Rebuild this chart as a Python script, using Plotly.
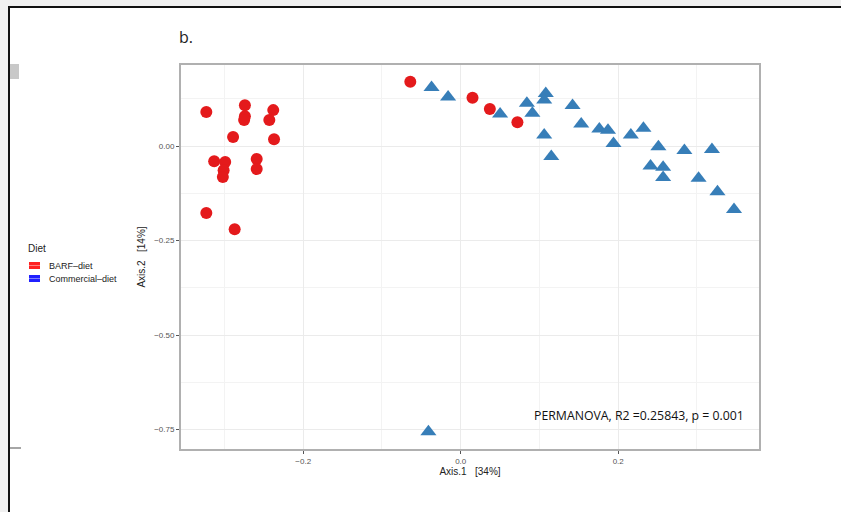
import plotly.graph_objects as go

# ---- data ----
barf_x = [-0.323, -0.274, -0.274, -0.275, -0.238, -0.243, -0.289, -0.237, -0.313, -0.299,
          -0.301, -0.302, -0.259, -0.259, -0.323, -0.287, -0.064, 0.015, 0.037, 0.072]
barf_y = [0.090, 0.108, 0.079, 0.069, 0.095, 0.069, 0.024, 0.018, -0.040, -0.042,
          -0.064, -0.082, -0.034, -0.061, -0.177, -0.220, 0.170, 0.128, 0.098, 0.063]

comm_x = [-0.037, -0.016, 0.050, 0.084, 0.091, 0.108, 0.106, 0.106, 0.115, 0.142,
          0.153, 0.176, 0.187, 0.194, 0.216, 0.232, 0.251, 0.241, 0.257, 0.257,
          0.284, 0.319, 0.302, 0.326, 0.347, -0.041]
comm_y = [0.155, 0.130, 0.085, 0.113, 0.087, 0.139, 0.122, 0.029, -0.028, 0.107,
          0.058, 0.045, 0.042, 0.007, 0.029, 0.047, -0.002, -0.053, -0.056, -0.083,
          -0.012, -0.009, -0.085, -0.121, -0.168, -0.756]

x_ticks = [-0.2, 0.0, 0.2]
y_ticks = [0.0, -0.25, -0.5, -0.75]
group_names = ["BARF\u2013diet", "Commercial\u2013diet"]
legend_title = "Diet"
x_title = "Axis.1   [34%]"
y_title = "Axis.2   [14%]"
panel_label = "b."
stat_text = "PERMANOVA, R2 =0.25843, p = 0.001"

RED = "#E41A1C"
BLUE = "#377EB8"

W, H = 841, 512
L, R, T, B = 180, 81, 64, 62
PW, PH = W - L - R, H - T - B


def px(x):
    return (x - L) / PW


def py(y):
    return (H - B - y) / PH


fig = go.Figure()
fig.add_trace(go.Scatter(x=barf_x, y=barf_y, mode="markers", name=group_names[0],
                         showlegend=False,
                         marker=dict(symbol="circle", size=12, color=RED, line=dict(width=0))))
fig.add_trace(go.Scatter(x=comm_x, y=comm_y, mode="markers", name=group_names[1],
                         showlegend=False,
                         marker=dict(symbol="triangle-up", size=14, color=BLUE, line=dict(width=0))))

axis_common = dict(showline=False, zeroline=False, ticks="outside", ticklen=3,
                   tickcolor="#555555", tickwidth=1,
                   tickfont=dict(family="Liberation Sans", size=8, color="#555555"),
                   gridcolor="#ebebeb", gridwidth=1)

fig.update_xaxes(range=[-0.3564, 0.380], tickvals=x_ticks, tickformat=".1f",
                 title=dict(text=x_title, font=dict(family="Liberation Sans", size=10, color="#222"),
                            standoff=2),
                 minor=dict(dtick=0.1, tick0=0, showgrid=True, gridcolor="#f3f3f3", ticks=""),
                 **axis_common)
fig.update_yaxes(range=[-0.804, 0.217], tickvals=y_ticks, tickformat=".2f",
                 title=dict(text=y_title, font=dict(family="Liberation Sans", size=10, color="#222"),
                            standoff=6),
                 minor=dict(dtick=0.125, tick0=0, showgrid=True, gridcolor="#f3f3f3", ticks=""),
                 **axis_common)

shapes = [
    # panel border
    dict(type="rect", xref="paper", yref="paper", x0=0, x1=1, y0=0, y1=1,
         line=dict(color="#b0b0b0", width=2), layer="above"),
    # page frame
    dict(type="rect", xref="paper", yref="paper", x0=px(0), x1=px(W), y0=py(7), y1=py(0),
         fillcolor="#f0f0f0", line=dict(width=0), layer="above"),
    dict(type="rect", xref="paper", yref="paper", x0=px(0), x1=px(8), y0=py(H), y1=py(0),
         fillcolor="#f0f0f0", line=dict(width=0), layer="above"),
    dict(type="line", xref="paper", yref="paper", x0=px(8), x1=px(W), y0=py(7), y1=py(7),
         line=dict(color="#111111", width=2)),
    dict(type="line", xref="paper", yref="paper", x0=px(9), x1=px(9), y0=py(7), y1=py(H),
         line=dict(color="#111111", width=2)),
    dict(type="rect", xref="paper", yref="paper", x0=px(10), x1=px(19), y0=py(79), y1=py(64),
         fillcolor="#c8c8c8", line=dict(width=0)),
    dict(type="line", xref="paper", yref="paper", x0=px(10), x1=px(21), y0=py(448), y1=py(448),
         line=dict(color="#888888", width=1.5)),
    # legend keys
    dict(type="rect", xref="paper", yref="paper", x0=px(29), x1=px(40), y0=py(269), y1=py(262),
         fillcolor="#ff2020", line=dict(width=0)),
    dict(type="line", xref="paper", yref="paper", x0=px(29), x1=px(40), y0=py(265.5), y1=py(265.5),
         line=dict(color="#ff8080", width=1)),
    dict(type="rect", xref="paper", yref="paper", x0=px(29), x1=px(40), y0=py(282), y1=py(275),
         fillcolor="#2020ff", line=dict(width=0)),
    dict(type="line", xref="paper", yref="paper", x0=px(29), x1=px(40), y0=py(278.5), y1=py(278.5),
         line=dict(color="#8080ff", width=1)),
]

annotations = [
    dict(text=panel_label, xref="paper", yref="paper", x=px(177), y=py(37), xanchor="left",
         yanchor="middle", showarrow=False, font=dict(family="Open Sans", size=16, color="#222")),
    dict(text=stat_text, xref="paper", yref="paper", x=px(746), y=py(415), xanchor="right",
         yanchor="middle", showarrow=False, font=dict(family="Open Sans", size=12.3, color="#111")),
    dict(text=legend_title, xref="paper", yref="paper", x=px(26), y=py(248), xanchor="left",
         yanchor="middle", showarrow=False, font=dict(family="Liberation Sans", size=10, color="#222")),
    dict(text=group_names[0], xref="paper", yref="paper", x=px(47), y=py(266), xanchor="left",
         yanchor="middle", showarrow=False, font=dict(family="Liberation Sans", size=9, color="#222")),
    dict(text=group_names[1], xref="paper", yref="paper", x=px(47), y=py(279), xanchor="left",
         yanchor="middle", showarrow=False, font=dict(family="Liberation Sans", size=9, color="#222")),
]

fig.update_layout(width=W, height=H, margin=dict(l=L, r=R, t=T, b=B, pad=0),
                  paper_bgcolor="white", plot_bgcolor="white", showlegend=False,
                  shapes=shapes, annotations=annotations)

fig.write_html("out.html", config={"displayModeBar": False},
               post_script="document.body.style.margin='0';document.body.style.overflow='hidden';")
